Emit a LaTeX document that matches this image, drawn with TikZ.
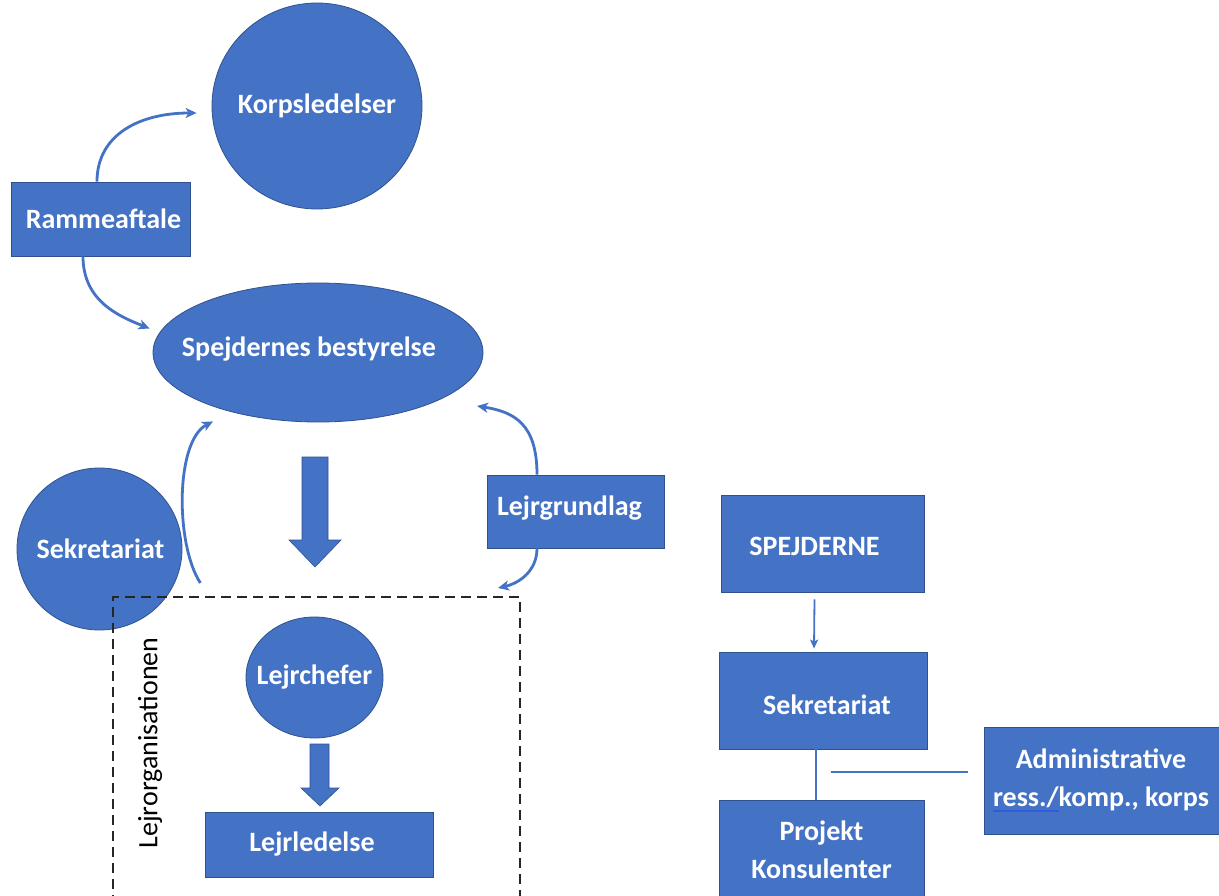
\documentclass[tikz,border=0pt]{standalone}
\usepackage{fontspec}
\setmainfont{Carlito}
\usetikzlibrary{arrows.meta,calc,shapes.geometric}
\definecolor{ofblue}{HTML}{4472C4}
\definecolor{ofedge}{HTML}{2F528F}
\definecolor{linkblue}{HTML}{2E5BE0}
\newcommand\blueul[1]{\setbox0\hbox{#1}\rlap{\textcolor{linkblue}{\rule[-5pt]{\wd0}{1.5pt}}}\box0}
\begin{document}
\begin{tikzpicture}[x=1pt,y=-1pt,
  txt/.style={text=white,font=\fontsize{28}{38}\selectfont\bfseries,align=center},
  rectbox/.style={rectangle,fill=ofblue,draw=ofedge,line width=0.8pt,inner sep=0pt},
  roundbox/.style={ellipse,fill=ofblue,draw=ofedge,line width=0.8pt,inner sep=0pt},
  lbl/.style={txt,inner sep=0pt},
  conn/.style={draw=ofblue,line width=2.8pt,-{Stealth[length=11pt,width=10pt,inset=3pt]}},
  thinconn/.style={draw=ofblue,line width=1.8pt,-{Stealth[length=9pt,width=8pt,inset=2pt]}},
  plainline/.style={draw=ofblue,line width=2.4pt},
  blockarrow/.style={fill=ofblue,draw=ofedge,line width=0.6pt},
  dashedbox/.style={draw=black!85,line width=1.8pt,dash pattern=on 10pt off 6pt}
]
\useasboundingbox (0,0) rectangle (1219,896);
\fill[white] (0,0) rectangle (1219,896);
\clip (0,0) rectangle (1219,896);

% left part
\node[roundbox,minimum width=210,minimum height=206,label={[lbl]center:Korpsledelser}] (korps) at (317,106) {};
\node[rectbox,minimum width=179,minimum height=74,label={[lbl,xshift=3pt]center:Rammeaftale}] (ramme) at (100.5,219) {};
\node[roundbox,minimum width=330,minimum height=139,label={[lbl,xshift=-9pt,yshift=3pt]center:Spejdernes bestyrelse}] (best) at (318,352.5) {};
\node[roundbox,minimum width=165,minimum height=162,label={[lbl,xshift=1pt]center:Sekretariat}] (sek) at (99.5,549) {};
\node[rectbox,minimum width=177,minimum height=73,label={[lbl,xshift=-6pt,yshift=3pt]center:Lejrgrundlag}] (lejrg) at (575.5,511.5) {};
\node[roundbox,minimum width=137,minimum height=121,label={[lbl]center:Lejrchefer}] (chef) at (314.5,677.5) {};
\node[rectbox,minimum width=228,minimum height=65,label={[lbl,xshift=-7pt]center:Lejrledelse}] (ledelse) at (319,844.5) {};

% dashed frame
\draw[dashedbox] (113,905) -- (113,597) -- (520,597) -- (520,905);
\node[rotate=90,font=\fontsize{28}{32}\selectfont,text=black,inner sep=0pt] (lorg) at (150,743) {Lejrorganisationen};

% block arrows
\filldraw[blockarrow] (302,457) -- (328,457) -- (328,540) -- (341,540) -- (315,567) -- (289,540) -- (302,540) -- cycle;
\filldraw[blockarrow] (310,744) -- (329,744) -- (329,788) -- (339,788) -- (320,806) -- (301,788) -- (310,788) -- cycle;

% curved connectors
\coordinate (bestIn) at ($(best.west)+(-3,-24)$);
\coordinate (sekTip) at ($(best.south)+(-105,-1)$);
\coordinate (lgTip) at (477,406);
\coordinate (frameTip) at (498,588);
\coordinate (sekStart) at ($(sek.east)+(18,34)$);

\draw[conn] ($(ramme.north)+(-3.5,0)$) .. controls +(0,-47) and +(-57,0) .. ($(korps.west)+(-15,7)$);
\draw[conn] ($(ramme.south)+(-17.5,0)$) .. controls +(0,45) and +(-30,-12) .. (bestIn);
\draw[conn] (sekStart) .. controls +(-25,-38) and +(-38,20) .. (sekTip);
\draw[conn] ($(lejrg.north)+(-38.5,0)$) .. controls +(0,-50) and +(38,6) .. (lgTip);
\draw[conn] ($(lejrg.south)+(-38.5,0)$) .. controls +(0,22) and +(22,-5) .. (frameTip);

% right part
\node[rectbox,minimum width=203,minimum height=97,label={[lbl,xshift=-8pt,yshift=-3pt]center:SPEJDERNE}] (spej) at (822.5,543.5) {};
\node[rectbox,minimum width=208,minimum height=97,label={[lbl,xshift=4pt,yshift=-4pt]center:Sekretariat}] (sekr) at (823,700.5) {};
\node[rectbox,minimum width=238,minimum height=107,label={[lbl,xshift=-2pt]center:{Administrative\\\blueul{ress./}komp., korps}}] (admin) at (1103,780.5) {};
\node[rectbox,minimum width=205,minimum height=100,label={[lbl]center:{Projekt\\Konsulenter}}] (proj) at (821.5,850) {};

\draw[thinconn] ($(spej.south)+(-8,7)$) -- ($(sekr.north)+(-9,-3)$);
\draw[plainline] ($(sekr.south)+(-7,0)$) -- ($(proj.north)+(-5.5,0)$);
\draw[plainline] ($(admin.west)+(-153,-8.5)$) -- ($(admin.west)+(-16,-8.5)$);
\end{tikzpicture}
\end{document}
